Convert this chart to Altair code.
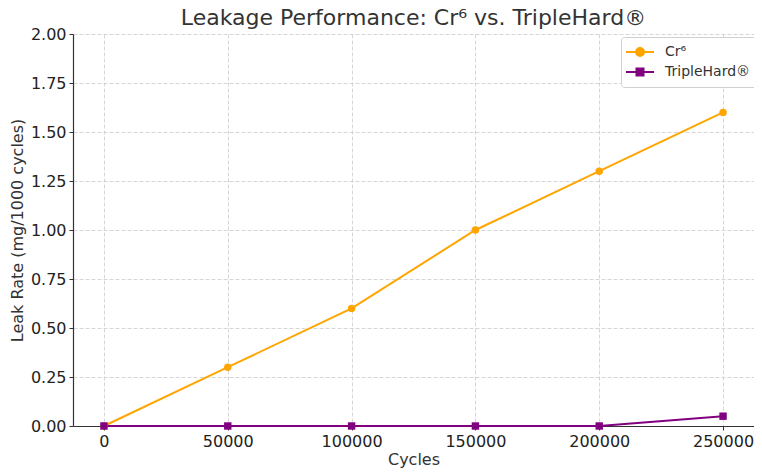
import altair as alt
import pandas as pd

cycles = [0, 50000, 100000, 150000, 200000, 250000]
cr6 = [0.0, 0.3, 0.6, 1.0, 1.3, 1.6]
triplehard = [0.0, 0.0, 0.0, 0.0, 0.0, 0.05]
series_names = ["Cr⁶", "TripleHard®"]
colors = ["#FFA500", "#800080"]
y_ticks = [0, 0.25, 0.5, 0.75, 1.0, 1.25, 1.5, 1.75, 2.0]

df = pd.DataFrame({
    "Cycles": cycles * 2,
    "Leak": cr6 + triplehard,
    "Series": [series_names[0]] * len(cycles) + [series_names[1]] * len(cycles),
})

FONT = "DejaVu Sans"

x = alt.X("Cycles:Q",
          scale=alt.Scale(domain=[-12500, 262500], nice=False, zero=False),
          axis=alt.Axis(values=cycles, format="d", title="Cycles"))
y = alt.Y("Leak:Q",
          scale=alt.Scale(domain=[0, 2], nice=False),
          axis=alt.Axis(values=y_ticks, format=".2f", title="Leak Rate (mg/1000 cycles)"))
cscale = alt.Scale(domain=series_names, range=colors)

base = alt.Chart(df)

lines = base.mark_line(strokeWidth=2).encode(
    x=x, y=y, color=alt.Color("Series:N", scale=cscale, legend=None), detail="Series:N")

pts_c = base.transform_filter(alt.datum.Series == series_names[0]).mark_point(
    shape="circle", filled=True, size=55, opacity=1).encode(
    x=x, y=y, color=alt.Color("Series:N", scale=cscale, legend=None))

pts_s = base.transform_filter(alt.datum.Series == series_names[1]).mark_point(
    shape="square", filled=True, size=55, opacity=1).encode(
    x=x, y=y, color=alt.Color("Series:N", scale=cscale, legend=None))

path_circle = "M-2,0H2M0.57,0A0.57,0.57,0,1,1,-0.57,0A0.57,0.57,0,1,1,0.57,0Z"
path_square = "M-2,0H2M-0.5,-0.5H0.5V0.5H-0.5Z"

leg = alt.Legend(title=None, orient="none", legendX=548, legendY=3,
                 fillColor="white", strokeColor="#d0d0d0", cornerRadius=3,
                 padding=7, labelFontSize=14, labelColor="#333333", labelFont=FONT,
                 symbolSize=196, symbolStrokeWidth=2, labelOffset=17,
                 symbolOffset=4, rowPadding=4)

legend_layer = base.transform_filter("false").mark_point(
    filled=False, strokeWidth=2, opacity=1).encode(
    x=x, y=y,
    stroke=alt.Stroke("Series:N", scale=alt.Scale(domain=series_names, range=colors), legend=leg),
    fill=alt.Fill("Series:N", scale=alt.Scale(domain=series_names, range=colors), legend=leg),
    shape=alt.Shape("Series:N", scale=alt.Scale(domain=series_names, range=[path_circle, path_square]), legend=leg),
)

chart = alt.layer(lines, pts_c, pts_s, legend_layer).resolve_scale(
    fill="independent", shape="independent", stroke="independent"
).properties(
    width=681, height=392,
    autosize=alt.AutoSizeParams(type="none"),
    padding={"left": 65, "top": 26, "right": 0, "bottom": 46},
    title=alt.TitleParams("Leakage Performance: Cr⁶ vs. TripleHard®", font=FONT,
                          fontSize=22, fontWeight="normal", color="#333333", offset=6, dy=10),
).configure_view(stroke=None).configure_axis(
    labelFont=FONT, titleFont=FONT, labelFontSize=16, titleFontSize=16,
    labelColor="#222222", titleColor="#333333", titleFontWeight="normal",
    grid=True, gridColor="#cccccc", gridDash=[4, 2], gridWidth=0.8,
    domainColor="#333333", domainWidth=1.2, tickColor="#333333", tickSize=4,
    labelPadding=3,
).configure_axisY(titlePadding=5).configure_axisX(titlePadding=2)

chart.save("out.html", embed_options={"renderer": "svg", "actions": False})
